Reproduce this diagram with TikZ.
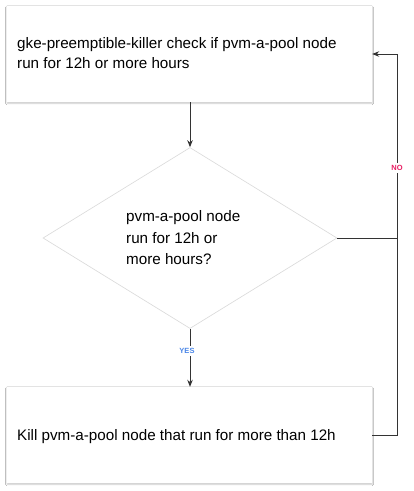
\documentclass[tikz,border=0pt]{standalone}
\usepackage{fontspec}
\setmainfont{Liberation Sans}
\usetikzlibrary{shapes.geometric,arrows.meta,shadows.blur}
\definecolor{nocol}{HTML}{E91E63}
\definecolor{yescol}{HTML}{4A86E8}
\definecolor{linecol}{HTML}{333333}
\tikzset{
  x=1pt,y=-1pt,
  procbox/.style={rectangle,fill=white,minimum width=365pt,minimum height=96pt,inner sep=0pt,
    blur shadow={shadow blur steps=5,shadow xshift=0pt,shadow yshift=-1.3pt,shadow opacity=22,shadow blur radius=1.5pt,shadow blur extra rounding=0pt}},
  decbox/.style={diamond,draw=black!15,fill=white,line width=0.6pt,minimum width=294pt,minimum height=181pt,inner sep=0pt},
  txt/.style={font=\fontsize{15.2}{20}\selectfont,align=left,anchor=west,inner sep=0pt},
  conn/.style={draw=linecol,line width=0.9pt},
  arr/.style={conn,-{Stealth[length=7pt,width=5.5pt]}},
  lbl/.style={font=\fontsize{7.5}{8}\selectfont\bfseries,fill=white,inner sep=2pt},
}
\begin{document}
\begin{tikzpicture}
\useasboundingbox (0,0) rectangle (414,491);
\fill[white] (0,0) rectangle (414,491);
\node[procbox] (top) at (189.5,54) {};
\node[procbox] (bot) at (189.5,435) {};
\node[decbox] (dia) at (190,238) {};
\node[txt] (toptxt) at (17,53) {gke-preemptible-killer check if pvm-a-pool node\\run for 12h or more hours};
\node[txt] (bottxt) at (17,437) {Kill pvm-a-pool node that run for more than 12h};
\node[txt,font=\fontsize{15.2}{21.5}\selectfont] (diatxt) at (126,238) {pvm-a-pool node\\run for 12h or\\more hours?};
\coordinate (rail) at (397,54);
\draw[arr] (top.south -| dia.north) -- (dia.north);
\draw[arr] (dia.south) -- (dia.south |- bot.north);
\draw[conn] (bot.east) -| (rail |- dia.east);
\draw[arr] (dia.east) -| (rail) -- (top.east);
\node[lbl,text=yescol] (yes) at (187,351) {YES};
\node[lbl,text=nocol] (no) at (397,168) {NO};
\end{tikzpicture}
\end{document}
